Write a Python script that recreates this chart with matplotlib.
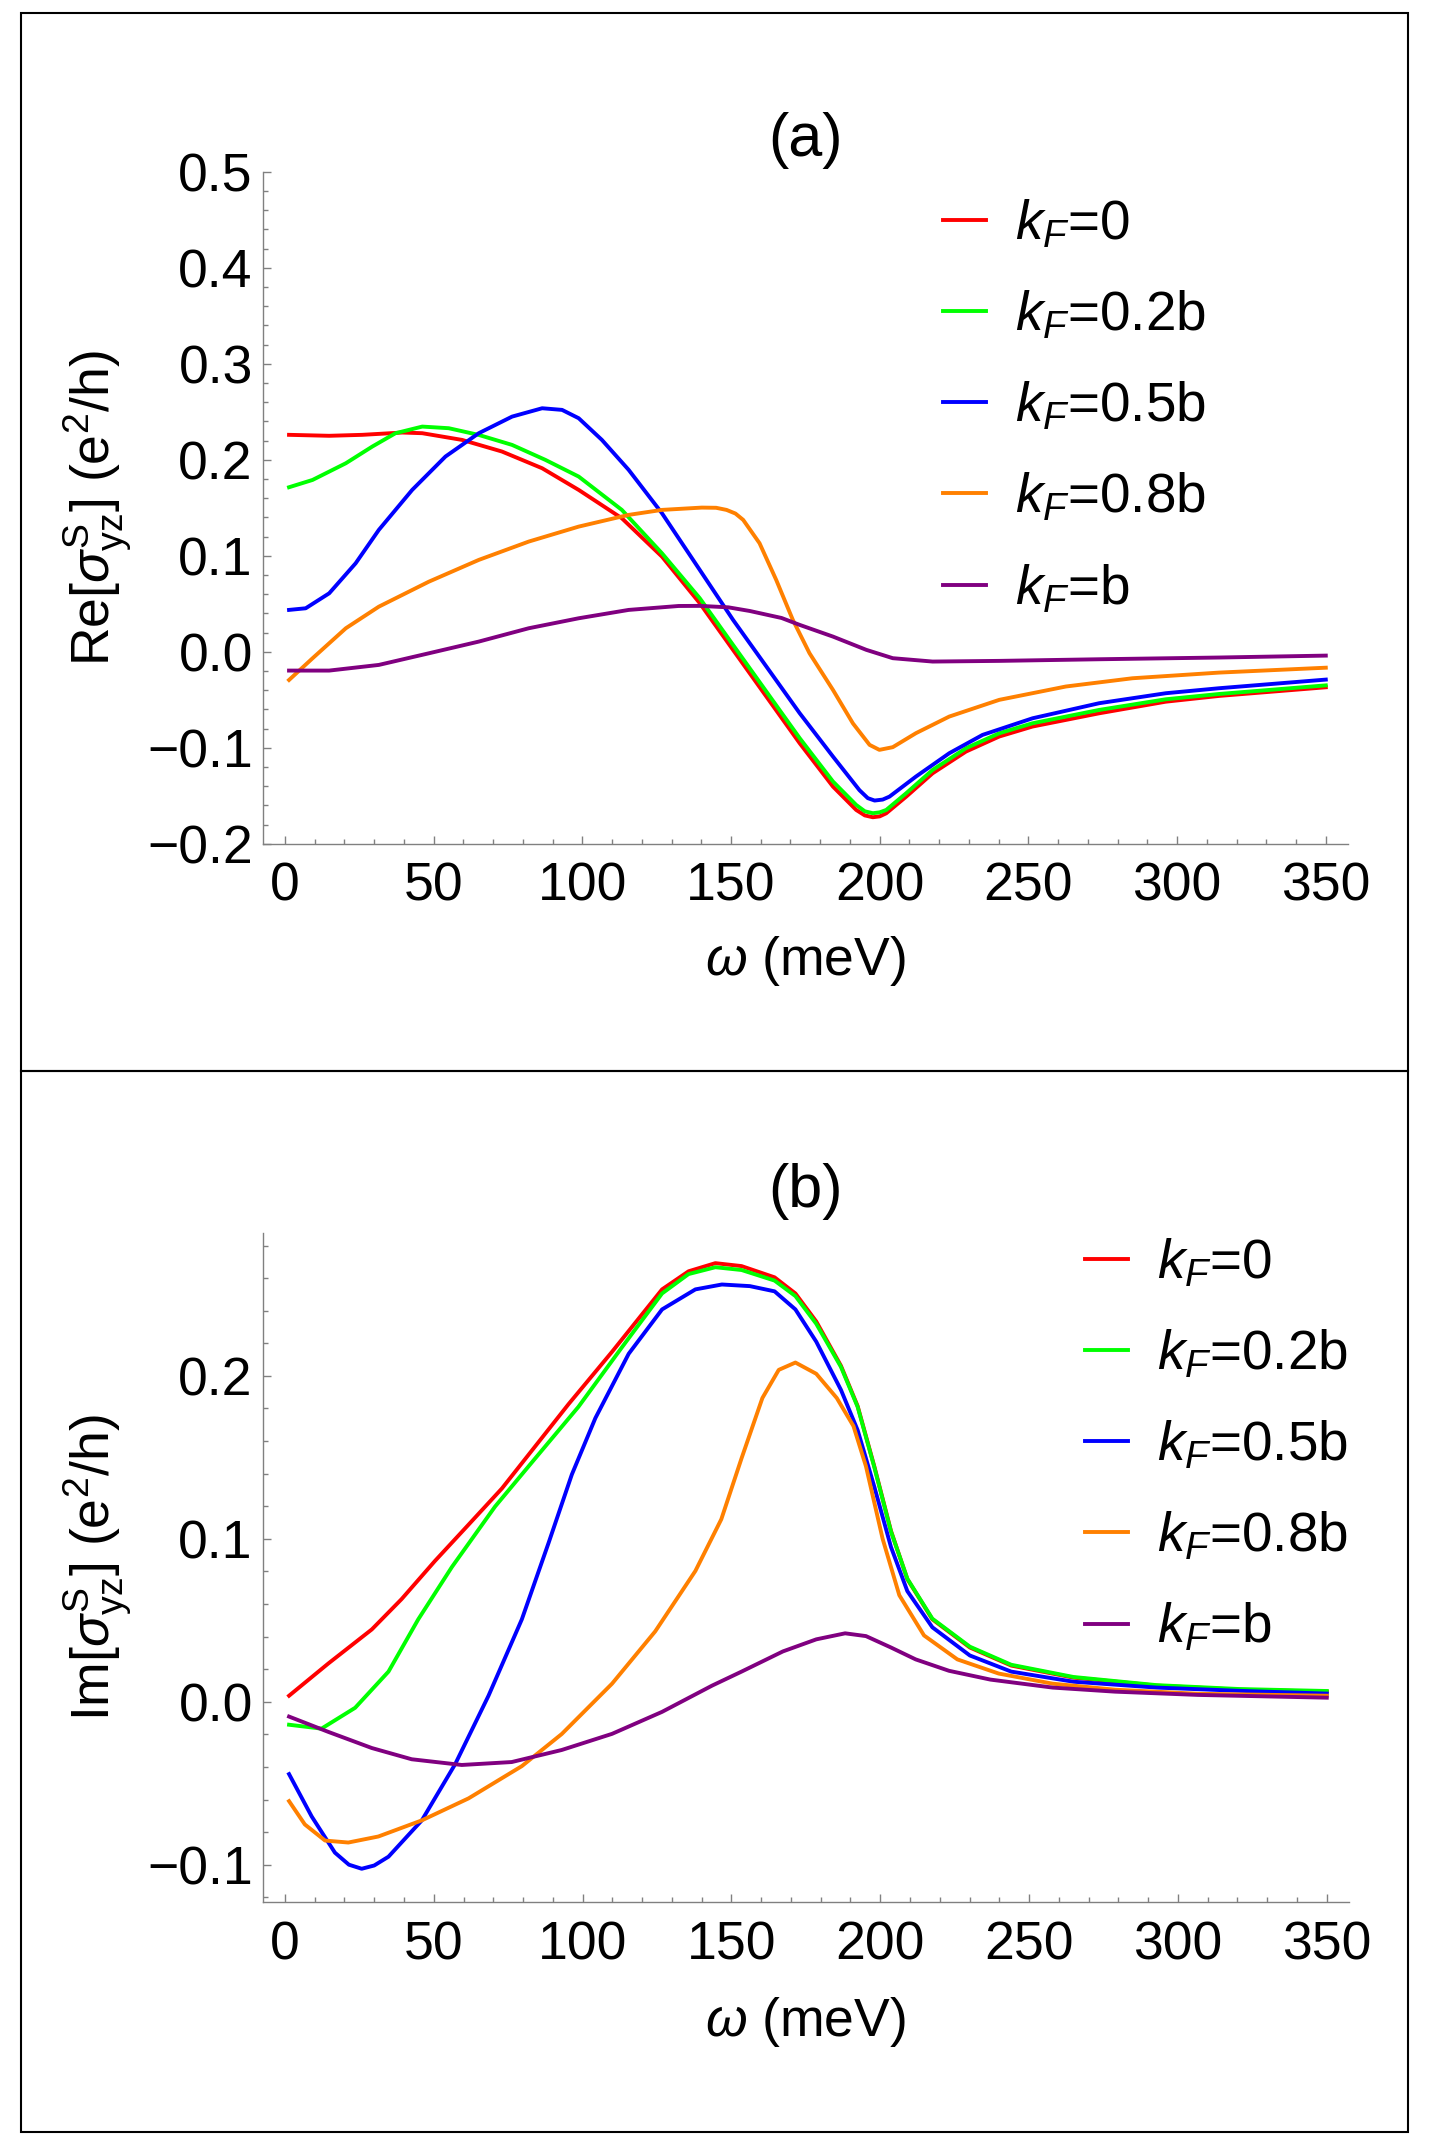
import numpy as np
import matplotlib
matplotlib.use("Agg")
import matplotlib.pyplot as plt
from matplotlib.patches import Rectangle
from matplotlib.ticker import MultipleLocator, FuncFormatter

plt.rcParams["font.family"] = ["Liberation Sans", "DejaVu Sans"]
plt.rcParams["mathtext.fontset"] = "custom"
plt.rcParams["mathtext.rm"] = "Liberation Sans"
plt.rcParams["mathtext.it"] = "Liberation Sans:italic"
plt.rcParams["mathtext.bf"] = "Liberation Sans:bold"

labels = [r"$k_F$=0", r"$k_F$=0.2b", r"$k_F$=0.5b", r"$k_F$=0.8b", r"$k_F$=b"]
colors = ["#ff0000", "#00ff00", "#0000ff", "#ff8000", "#800080"]

# panel (a): Re[sigma]
re_w0 = [1.4, 14.9, 26, 39.5, 46.2, 59.6, 73, 86.5, 98.8, 113.3, 126.8, 139.5, 150.7, 161.9, 173.1,
         184.3, 192.1, 195, 197.7, 200, 202.2, 208.9, 217.8, 229, 240.2, 251.4, 273.8, 296.2, 314.1, 350]
re_k0 = [0.226, 0.225, 0.226, 0.2284, 0.2277, 0.2207, 0.2086, 0.1912, 0.1686, 0.1391, 0.0991, 0.0506,
         0.0019, -0.0467, -0.0953, -0.1405, -0.1648, -0.1705, -0.1724, -0.1715, -0.1683, -0.151,
         -0.1266, -0.104, -0.0883, -0.0779, -0.0641, -0.052, -0.046, -0.037]

re_w02 = [1.4, 9.3, 20.5, 29.4, 37.2, 46.2, 55.1, 65.2, 76.4, 87.6, 98.8, 113.3, 126.8, 139.5, 150.7,
          161.9, 173.1, 184.3, 192.1, 195, 197.7, 200, 202.2, 208.9, 217.8, 229, 240.2, 251.4, 273.8,
          296.2, 314.1, 350]
re_k02 = [0.1714, 0.179, 0.1964, 0.2138, 0.2277, 0.2346, 0.2329, 0.2259, 0.2155, 0.1999, 0.1825,
          0.1478, 0.1026, 0.0558, 0.0071, -0.0415, -0.09, -0.1352, -0.1596, -0.1662, -0.1682,
          -0.1673, -0.1648, -0.1474, -0.1231, -0.1005, -0.0849, -0.0745, -0.0606, -0.0495, -0.044,
          -0.035]

re_w05 = [1.4, 7, 14.9, 23.8, 31.6, 42.8, 54, 65.2, 76.4, 86.5, 93.2, 98.8, 106.6, 115.6, 126.8,
          139.5, 150.7, 161.9, 173.1, 184.3, 193.2, 196, 198.3, 201, 203.3, 212.2, 223.4, 234.6,
          251.4, 273.8, 296.2, 314.1, 350]
re_k05 = [0.0436, 0.0453, 0.0609, 0.0922, 0.127, 0.1686, 0.2034, 0.2277, 0.245, 0.2537, 0.252,
          0.2433, 0.2207, 0.1895, 0.1443, 0.0853, 0.0332, -0.0154, -0.064, -0.1092, -0.1442,
          -0.1525, -0.155, -0.1540, -0.1509, -0.13, -0.1057, -0.0866, -0.0693, -0.0536, -0.0432,
          -0.038, -0.029]

re_w08 = [1.4, 9.3, 20.5, 31.6, 48.4, 65.2, 82, 98.8, 115.6, 126.8, 140.2, 145, 148.5, 151.5, 154.1,
          159.6, 165.2, 170.8, 176.4, 184.3, 191, 196.6, 199.9, 204.4, 212.2, 223.4, 240.2, 262.6,
          285, 314.1, 350]
re_k08 = [-0.0294, -0.0068, 0.0245, 0.047, 0.073, 0.0957, 0.1148, 0.1304, 0.1426, 0.1478, 0.1502,
          0.1500, 0.1478, 0.1440, 0.1374, 0.1131, 0.0749, 0.0332, -0.0015, -0.0398, -0.0746,
          -0.097, -0.1022, -0.0994, -0.0848, -0.0675, -0.0501, -0.0362, -0.0276, -0.0217, -0.0166]

re_w1 = [1.4, 14.9, 31.6, 48.4, 65.2, 82, 98.8, 115.6, 132.4, 139.5, 149.1, 156.3, 167, 173.1, 184.3,
         195.5, 204.4, 217.8, 240.2, 273.8, 314.1, 350]
re_k1 = [-0.0196, -0.0196, -0.0137, -0.0016, 0.0106, 0.0245, 0.0349, 0.0436, 0.0477, 0.0478, 0.0463,
         0.0425, 0.0352, 0.028, 0.0158, 0.002, -0.0067, -0.0102, -0.0095, -0.0078, -0.006, -0.004]

# panel (b): Im[sigma]
im_w0 = [1.4, 14.6, 29.2, 39.2, 50.4, 61.7, 72.9, 84.1, 95.3, 109.9, 126.7, 135.6, 144.6, 153.4,
         164.5, 171.5, 178.5, 186.8, 192.4, 198, 203.6, 209.1, 217.5, 230.1, 244, 264.9, 292.8,
         320.7, 350]
im_k0 = [0.0037, 0.0235, 0.0444, 0.063, 0.0864, 0.1087, 0.1309, 0.1568, 0.1827, 0.2148, 0.2531,
         0.2642, 0.2692, 0.2674, 0.2605, 0.2506, 0.2334, 0.2062, 0.1815, 0.1445, 0.1049, 0.0753,
         0.0506, 0.0333, 0.0222, 0.0148, 0.0099, 0.0074, 0.0062]

im_w02 = [1.4, 12.3, 23.6, 34.8, 44.8, 56.1, 70.6, 84.1, 98.6, 113.2, 126.7, 135.6, 144.6, 153.4,
          164.5, 171.5, 178.5, 186.8, 192.4, 198, 203.6, 209.1, 217.5, 230.1, 244, 264.9, 292.8,
          320.7, 350]
im_k02 = [-0.0141, -0.0165, -0.0037, 0.0185, 0.0506, 0.0827, 0.1198, 0.1494, 0.181, 0.2175, 0.2506,
          0.2625, 0.2667, 0.265, 0.2585, 0.249, 0.232, 0.2055, 0.181, 0.144, 0.1045, 0.0755,
          0.051, 0.0338, 0.0227, 0.0152, 0.0102, 0.0078, 0.0066]

im_w05 = [1.4, 9, 16.8, 21.5, 25.8, 30, 34.8, 46, 57.2, 68.4, 79.6, 88.6, 96.4, 104.3, 115.5, 126.7,
          137.9, 146.8, 156.2, 164.5, 171.5, 178.5, 186.8, 192.4, 198, 203.6, 209.1, 217.5, 230.1,
          244, 264.9, 292.8, 320.7, 350]
im_k05 = [-0.0444, -0.0704, -0.0926, -0.1000, -0.1025, -0.1005, -0.0951, -0.0728, -0.0383, 0.0037,
          0.0506, 0.0976, 0.1395, 0.1741, 0.2136, 0.2408, 0.2531, 0.2561, 0.2551, 0.2519, 0.2408,
          0.221, 0.1914, 0.1667, 0.132, 0.095, 0.0679, 0.0457, 0.0284, 0.0185, 0.0123, 0.0087,
          0.0067, 0.005]

im_w08 = [1.4, 6.7, 13.5, 21.3, 31.4, 46, 61.7, 79.6, 93, 109.9, 124.4, 137.9, 146.6, 153.4, 160.4,
          165.9, 171.5, 178.5, 185.4, 191, 195.2, 200.8, 206.4, 214.7, 225.9, 239.8, 257.9, 278.9,
          306.7, 350]
im_k08 = [-0.061, -0.0753, -0.0852, -0.0864, -0.0827, -0.0728, -0.0593, -0.0395, -0.0198, 0.0111,
          0.0432, 0.0803, 0.112, 0.1494, 0.1864, 0.2037, 0.2082, 0.2013, 0.1864, 0.1692, 0.1445,
          0.1, 0.0654, 0.0407, 0.026, 0.0173, 0.0111, 0.0074, 0.0049, 0.0037]

im_w1 = [1.4, 14.6, 29.2, 42.6, 59.4, 76.2, 93, 109.9, 126.7, 143.5, 153.4, 167.3, 178.5, 188.2,
         195.2, 203.6, 211.9, 223.1, 237, 257.9, 278.9, 306.7, 350]
im_k1 = [-0.0091, -0.0185, -0.0284, -0.0353, -0.0388, -0.037, -0.0296, -0.0197, -0.0062, 0.0099,
         0.0185, 0.0309, 0.0383, 0.042, 0.0403, 0.0333, 0.026, 0.019, 0.0136, 0.0087, 0.0062,
         0.0042, 0.0025]

re_w = [re_w0, re_w02, re_w05, re_w08, re_w1]
re_v = [re_k0, re_k02, re_k05, re_k08, re_k1]
im_w = [im_w0, im_w02, im_w05, im_w08, im_w1]
im_v = [im_k0, im_k02, im_k05, im_k08, im_k1]

axcol = "#808080"
fs = 38.5
legfs = 39.5
lw = 2.8


def minus(v, pos):
	return ("%.1f" % v).replace("-", "\u2212")


def style(ax):
	for s in ["top", "right"]:
		ax.spines[s].set_visible(False)
	for s in ["left", "bottom"]:
		ax.spines[s].set_color(axcol)
		ax.spines[s].set_linewidth(1.0)
	ax.xaxis.set_major_locator(MultipleLocator(50))
	ax.xaxis.set_minor_locator(MultipleLocator(10))
	ax.yaxis.set_major_locator(MultipleLocator(0.1))
	ax.yaxis.set_minor_locator(MultipleLocator(0.02))
	ax.yaxis.set_major_formatter(FuncFormatter(minus))
	ax.tick_params(which="both", direction="in", color=axcol, width=1.0, labelsize=fs)
	ax.tick_params(which="major", length=6)
	ax.tick_params(which="minor", length=3.3)
	ax.tick_params(axis="x", which="major", pad=13)
	ax.tick_params(axis="y", which="major", pad=7)
	ax.set_xlim(-7.5, 357.5)


fig = plt.figure(figsize=(14.34, 21.48), dpi=100)

fig.add_artist(Rectangle((0.0146, 0.5012), 0.9673, 0.4927, transform=fig.transFigure,
                         fill=False, ec="black", lw=1.5))
fig.add_artist(Rectangle((0.0146, 0.0075), 0.9673, 0.4937, transform=fig.transFigure,
                         fill=False, ec="black", lw=1.5))

ax1 = fig.add_axes([0.1831, 0.6072, 0.7570, 0.3128])
for w, v, c, lab in zip(re_w, re_v, colors, labels):
	ax1.plot(w, v, color=c, lw=lw, label=lab, solid_joinstyle="round")
style(ax1)
ax1.set_ylim(-0.2, 0.5)
ax1.set_xlabel(r"$\omega$ (meV)", fontsize=fs)
ax1.set_ylabel(r"Re[$\sigma^{\mathrm{S}}_{\mathrm{yz}}$] (e$^{2}$/h)", fontsize=fs)
ax1.xaxis.set_label_coords(0.5, -0.135)
ax1.yaxis.set_label_coords(-0.118, 0.5)
ax1.legend(loc="upper left", bbox_to_anchor=(0.6576, 0.9075), bbox_transform=fig.transFigure,
           frameon=False, fontsize=legfs, handlelength=0.79, handletextpad=0.52, labelspacing=0.7,
           borderpad=0, borderaxespad=0)
fig.text(0.5614, 0.9344, "(a)", fontsize=44, ha="center", va="center")

ax2 = fig.add_axes([0.1831, 0.1143, 0.7577, 0.3119])
for w, v, c, lab in zip(im_w, im_v, colors, labels):
	ax2.plot(w, v, color=c, lw=lw, label=lab, solid_joinstyle="round")
style(ax2)
ax2.set_ylim(-0.1232, 0.288)
ax2.set_xlabel(r"$\omega$ (meV)", fontsize=fs)
ax2.set_ylabel(r"Im[$\sigma^{\mathrm{S}}_{\mathrm{yz}}$] (e$^{2}$/h)", fontsize=fs)
ax2.xaxis.set_label_coords(0.5, -0.138)
ax2.yaxis.set_label_coords(-0.118, 0.5)
ax2.legend(loc="upper left", bbox_to_anchor=(0.7566, 0.4238), bbox_transform=fig.transFigure,
           frameon=False, fontsize=legfs, handlelength=0.79, handletextpad=0.52, labelspacing=0.7,
           borderpad=0, borderaxespad=0)
fig.text(0.5614, 0.4453, "(b)", fontsize=44, ha="center", va="center")

plt.savefig("out.png", dpi=100)
